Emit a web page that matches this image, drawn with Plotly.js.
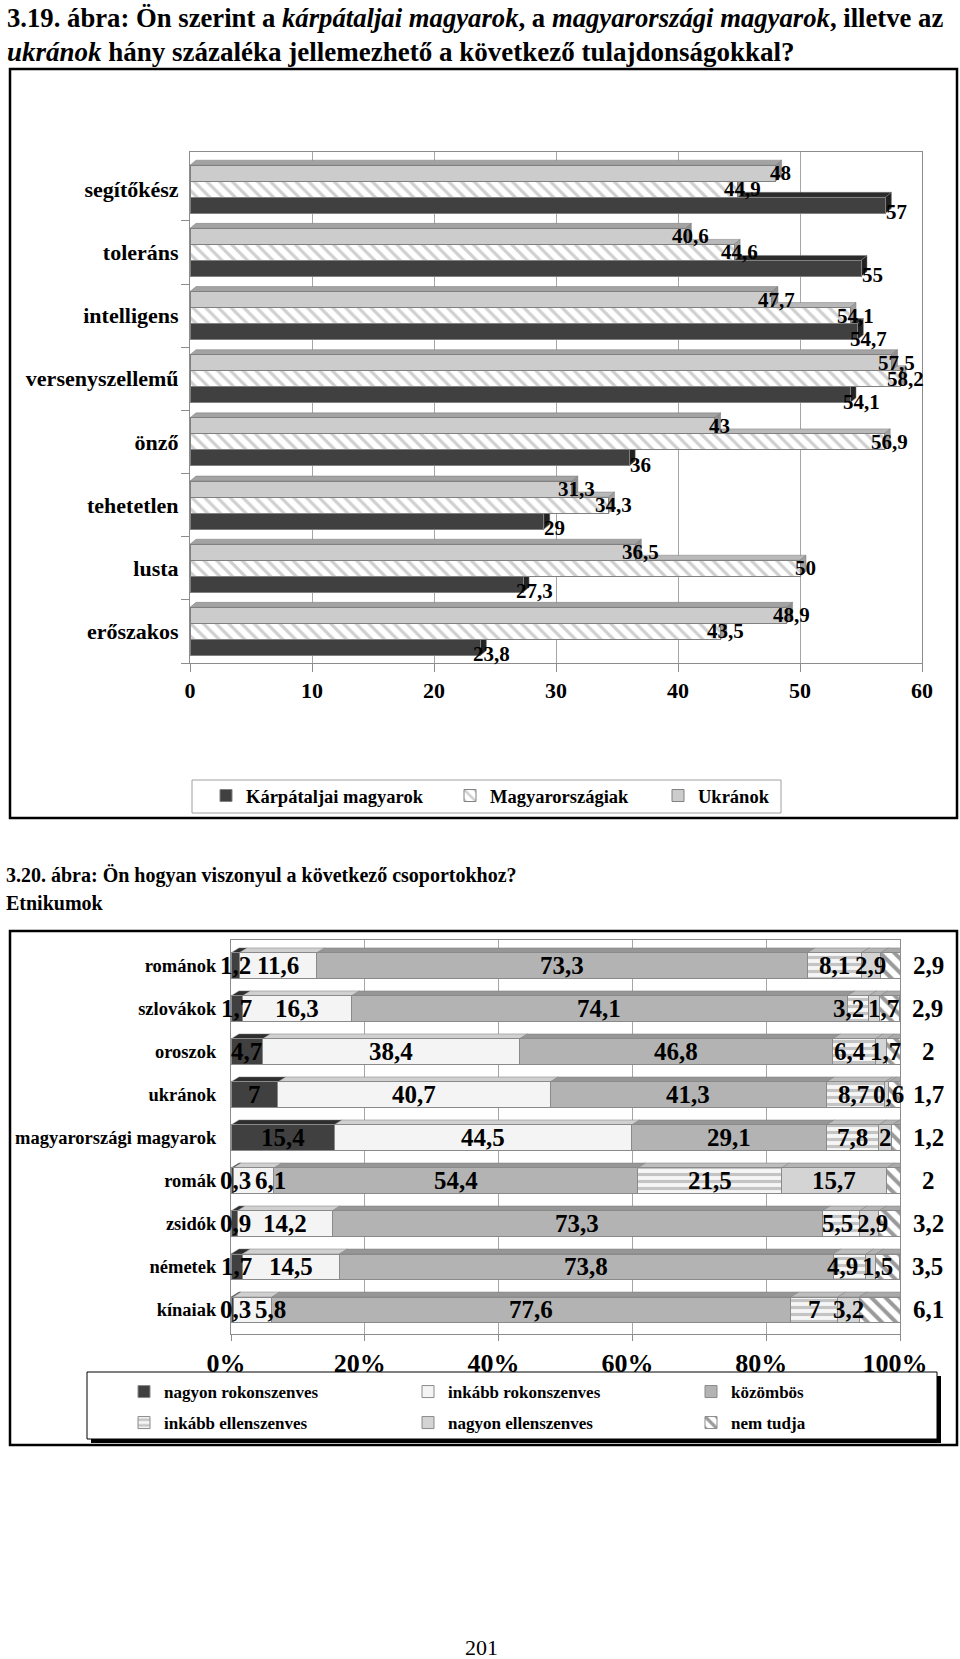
<!DOCTYPE html>
<html><head><meta charset="utf-8">
<script src="https://cdn.plot.ly/plotly-3.0.1.min.js"></script>
<style>html,body{margin:0;padding:0;background:#fff}#chart{width:960px;height:1659px}</style>
</head><body><div id="chart"></div>
<script>
// ---------- DATA: chart 1 (3.19. ábra) ----------
const traits = ['segítőkész','toleráns','intelligens','versenyszellemű','önző','tehetetlen','lusta','erőszakos'];
const karpataljai = [57, 55, 54.7, 54.1, 36, 29, 27.3, 23.8];
const magyarorszagiak = [44.9, 44.6, 54.1, 58.2, 56.9, 34.3, 50, 43.5];
const ukranok = [48, 40.6, 47.7, 57.5, 43, 31.3, 36.5, 48.9];
const series1Names = ['Kárpátaljai magyarok','Magyarországiak','Ukránok'];
const xTicks1 = [0, 10, 20, 30, 40, 50, 60];

// ---------- DATA: chart 2 (3.20. ábra) ----------
const groups = ['románok','szlovákok','oroszok','ukránok','magyarországi magyarok','romák','zsidók','németek','kínaiak'];
const nagyonRokonszenves = [1.2, 1.7, 4.7, 7, 15.4, 0.3, 0.9, 1.7, 0.3];
const inkabbRokonszenves = [11.6, 16.3, 38.4, 40.7, 44.5, 6.1, 14.2, 14.5, 5.8];
const kozombos = [73.3, 74.1, 46.8, 41.3, 29.1, 54.4, 73.3, 73.8, 77.6];
const inkabbEllenszenves = [8.1, 3.2, 6.4, 8.7, 7.8, 21.5, 5.5, 4.9, 7];
const nagyonEllenszenves = [2.9, 1.7, 1.7, 0.6, 2, 15.7, 2.9, 1.5, 3.2];
const nemTudja = [2.9, 2.9, 2, 1.7, 1.2, 2, 3.2, 3.5, 6.1];
const series2Names = ['nagyon rokonszenves','inkább rokonszenves','közömbös','inkább ellenszenves','nagyon ellenszenves','nem tudja'];
const xTicks2 = [0, 20, 40, 60, 80, 100];

// ---------- helpers / geometry ----------
const W = 960, H = 1659;
const px = x => x / W;
const py = y => 1 - y / H;
const FONT = '"Liberation Serif", "Times New Roman", serif';
const fmt = v => String(v).replace('.', ',');
const bold = (size) => ({family: FONT, size: size, color: '#000', weight: 'bold'});

const c1 = {left: 190, right: 922, top: 152, bottom: 663, yr: [-0.5, 7.59]};
const c2 = {left: 231, right: 900, top: 940, bottom: 1334, yr: [-0.56, 8.6]};

const data = [];
const shapes = [];
const annotations = [];
const layout = {
  width: W, height: H,
  margin: {l: 0, r: 0, t: 0, b: 0, pad: 0, autoexpand: false},
  paper_bgcolor: '#ffffff', plot_bgcolor: 'rgba(0,0,0,0)',
  barmode: 'stack', showlegend: true,
  font: {family: FONT, color: '#000'},
  shapes: shapes, annotations: annotations
};

function rectPx(x0, y0, x1, y1, line, fill, layer) {
  return {type: 'rect', xref: 'paper', yref: 'paper', x0: px(x0), x1: px(x1), y0: py(y1), y1: py(y0),
          line: line, fillcolor: fill || 'rgba(0,0,0,0)', layer: layer || 'below'};
}
function legendAt(id, xSym, yCenter, size) {
  layout[id] = {x: px(xSym - 20), xanchor: 'left', y: py(yCenter), yanchor: 'middle', orientation: 'h',
    bgcolor: 'rgba(0,0,0,0)', borderwidth: 0, font: bold(size), itemclick: false, itemdoubleclick: false};
}

// ---------- chart 1 ----------
const n1 = traits.length;
const pos1 = traits.map((_, i) => n1 - 1 - i);
const BW1 = 0.254;
const vals1 = [karpataljai, magyarorszagiak, ukranok];
const off1 = [-BW1, 0, BW1];
const style1 = [
  {color: '#404040', top: '#2b2b2b', side: '#222222', pattern: null},
  {color: '#ffffff', top: '#b9b9b9', side: '#a0a0a0', pattern: {shape: '\\', fgcolor: '#cfcfcf', bgcolor: '#ffffff', size: 9, solidity: 0.35}},
  {color: '#cccccc', top: '#a3a3a3', side: '#8f8f8f', pattern: null}
];
const lab1 = [{xs: 11, ys: -7}, {xs: 5, ys: 0}, {xs: 5, ys: 0}];
const legIds1 = ['legend', 'legend2', 'legend3'];
const legX1 = [226, 470, 678];
const dx1 = 6 / ((c1.right - c1.left) / (xTicks1[xTicks1.length - 1] - xTicks1[0]));
const dy1 = 5 / ((c1.bottom - c1.top) / (c1.yr[1] - c1.yr[0]));

vals1.forEach((vals, k) => {
  const st = style1[k];
  const marker = {color: st.color, line: {color: '#808080', width: 1}};
  if (st.pattern) marker.pattern = st.pattern;
  data.push({type: 'bar', orientation: 'h', name: series1Names[k], x: vals, y: pos1.map(p => p + off1[k]),
    width: BW1, marker: marker, xaxis: 'x', yaxis: 'y', legend: legIds1[k], hoverinfo: 'skip'});
  legendAt(legIds1[k], legX1[k], 796, 18.5);
  vals.forEach((v, i) => {
    const yc = pos1[i] + off1[k], y0 = yc - BW1 / 2, y1 = yc + BW1 / 2;
    shapes.push({type: 'path', xref: 'x', yref: 'y', layer: 'between', fillcolor: st.top, line: {color: '#7a7a7a', width: 0.5},
      path: `M0,${y1} L${v},${y1} L${v + dx1},${y1 + dy1} L${dx1},${y1 + dy1} Z`});
    shapes.push({type: 'path', xref: 'x', yref: 'y', layer: 'between', fillcolor: st.side, line: {color: '#7a7a7a', width: 0.5},
      path: `M${v},${y0} L${v},${y1} L${v + dx1},${y1 + dy1} L${v + dx1},${y0 + dy1} Z`});
    annotations.push({xref: 'x', yref: 'y', x: v, y: yc, text: fmt(v), showarrow: false, xanchor: 'center', yanchor: 'middle',
      xshift: lab1[k].xs, yshift: lab1[k].ys, font: bold(21)});
  });
});

layout.xaxis = {domain: [px(c1.left), px(c1.right)], anchor: 'y', range: [xTicks1[0], xTicks1[xTicks1.length - 1]],
  tickvals: xTicks1, ticktext: xTicks1.map(String), showgrid: true, gridcolor: '#a6a6a6', gridwidth: 1, zeroline: false,
  showline: true, linecolor: '#8c8c8c', linewidth: 1, mirror: true, ticks: 'outside', ticklen: 8, tickcolor: '#8c8c8c',
  tickfont: bold(22), fixedrange: true};
layout.yaxis = {domain: [py(c1.bottom), py(c1.top)], anchor: 'x', range: c1.yr, tickvals: pos1, ticktext: traits,
  showgrid: false, zeroline: false, showline: true, linecolor: '#8c8c8c', mirror: true, ticks: '',
  ticklabelstandoff: 6, tickfont: bold(22), fixedrange: true,
  minor: {tickvals: pos1.map(p => p - 0.5), ticks: 'outside', ticklen: 8, tickcolor: '#8c8c8c', showgrid: false}};

// ---------- chart 2 ----------
const n2 = groups.length;
const pos2 = groups.map((_, i) => n2 - 1 - i);
const BW2 = 0.6;
const vals2 = [nagyonRokonszenves, inkabbRokonszenves, kozombos, inkabbEllenszenves, nagyonEllenszenves, nemTudja];
const style2 = [
  {color: '#404040', top: '#2e2e2e', pattern: null},
  {color: '#f4f4f4', top: '#d0d0d0', pattern: null},
  {color: '#b3b3b3', top: '#969696', pattern: null},
  {color: '#f2f2f2', top: '#bdbdbd', pattern: {shape: '-', fgcolor: '#c4c4c4', bgcolor: '#f6f6f6', size: 7, solidity: 0.45}},
  {color: '#d4d4d4', top: '#b4b4b4', pattern: null},
  {color: '#ffffff', top: '#a9a9a9', pattern: {shape: '\\', fgcolor: '#9a9a9a', bgcolor: '#ffffff', size: 10, solidity: 0.4}}
];
const legIds2 = ['legend4', 'legend5', 'legend6', 'legend7', 'legend8', 'legend9'];
const legX2 = [144, 428, 711];
const legY2 = [1392, 1423];
const pxPerPct = (c2.right - c2.left) / 100;
const dx2 = 8 / pxPerPct;
const dy2 = 5 / ((c2.bottom - c2.top) / (c2.yr[1] - c2.yr[0]));
const labelFs2 = 25;

vals2.forEach((vals, k) => {
  const st = style2[k];
  const marker = {color: st.color, line: {color: '#8a8a8a', width: 1}};
  if (st.pattern) marker.pattern = st.pattern;
  data.push({type: 'bar', orientation: 'h', name: series2Names[k], x: vals, y: pos2, width: BW2, marker: marker,
    xaxis: 'x2', yaxis: 'y2', legend: legIds2[k], hoverinfo: 'skip'});
  legendAt(legIds2[k], legX2[k % 3], legY2[Math.floor(k / 3)], 17);
});

// label anchored on the axis at a pixel target (kept inside the axis range, rest as pixel shift)
function label2(xpx, yv, text) {
  const xv = Math.min(100, Math.max(0, (xpx - c2.left) / pxPerPct));
  annotations.push({xref: 'x2', yref: 'y2', x: xv, y: yv, text: text, showarrow: false, xanchor: 'center', yanchor: 'middle',
    xshift: xpx - (c2.left + xv * pxPerPct), font: bold(labelFs2)});
}

// 3D top faces, end faces and value labels for chart 2
const textW = (s, fs) => { let w = 0; for (const ch of s) w += (ch === ',' ? 0.25 : 0.5); return w * fs; };
groups.forEach((g, i) => {
  const y1 = pos2[i] + BW2 / 2, y0 = pos2[i] - BW2 / 2;
  let cum = 0;
  const centers = [], texts = [], widths = [];
  vals2.forEach((vals, k) => {
    const v = vals[i], c0 = cum, cEnd = cum + v;
    shapes.push({type: 'path', xref: 'x2', yref: 'y2', layer: 'between', fillcolor: style2[k].top, line: {color: '#7f7f7f', width: 0.5},
      path: `M${c0},${y1} L${cEnd},${y1} L${cEnd + dx2},${y1 + dy2} L${c0 + dx2},${y1 + dy2} Z`});
    if (k < vals2.length - 1) {
      centers.push(c2.left + (c0 + v / 2) * pxPerPct);
      texts.push(fmt(v));
      widths.push(textW(fmt(v), labelFs2));
    }
    cum = cEnd;
  });
  shapes.push({type: 'path', xref: 'x2', yref: 'y2', layer: 'between', fillcolor: '#8c8c8c', line: {color: '#6e6e6e', width: 0.5},
    path: `M${cum},${y0} L${cum},${y1} L${cum + dx2},${y1 + dy2} L${cum + dx2},${y0 + dy2} Z`});
  // push overlapping labels apart
  const GAP = 4;
  for (let it = 0; it < 30; it++) {
    for (let j = 0; j < centers.length - 1; j++) {
      const ov = (centers[j] + widths[j] / 2 + GAP) - (centers[j + 1] - widths[j + 1] / 2);
      if (ov > 0) { centers[j] -= ov / 2; centers[j + 1] += ov / 2; }
    }
  }
  if (centers[0] - widths[0] / 2 < c2.left - 11) centers[0] = c2.left - 11 + widths[0] / 2;
  for (let j = 1; j < centers.length; j++) {
    const minC = centers[j - 1] + widths[j - 1] / 2 + GAP + widths[j] / 2;
    if (centers[j] < minC) centers[j] = minC;
  }
  centers.forEach((cx, j) => label2(cx, pos2[i], texts[j]));
  label2(c2.left + cum * pxPerPct + 28, pos2[i], fmt(nemTudja[i]));
});

layout.xaxis2 = {domain: [px(c2.left), px(c2.right)], anchor: 'y2', range: [0, 100], tickvals: xTicks2,
  ticktext: xTicks2.map(v => v + '%'), showgrid: true, gridcolor: '#a6a6a6', zeroline: false, showline: true,
  linecolor: '#8c8c8c', mirror: true, ticks: 'outside', ticklen: 6, tickcolor: '#8c8c8c', tickfont: bold(26),
  ticklabelshift: -5, fixedrange: true};
layout.yaxis2 = {domain: [py(c2.bottom), py(c2.top)], anchor: 'x2', range: c2.yr, tickvals: pos2, ticktext: groups,
  showgrid: false, zeroline: false, showline: true, linecolor: '#8c8c8c', mirror: true, ticks: '',
  ticklabelstandoff: 10, tickfont: bold(18.5), fixedrange: true};

// ---------- frames, legend boxes ----------
shapes.push(rectPx(10, 69, 957, 818, {color: '#000', width: 2.5}));
shapes.push(rectPx(192, 780, 781, 813, {color: '#a0a0a0', width: 1}));
shapes.push(rectPx(10, 931, 957, 1445, {color: '#000', width: 2.5}));
shapes.push(rectPx(91, 1376, 941, 1443, {color: '#000', width: 0}, '#000'));
shapes.push(rectPx(87, 1372, 937, 1439, {color: '#000', width: 1}, '#fff'));

// ---------- titles and page number ----------
function textPx(x, y, text, font, xanchor) {
  annotations.push({xref: 'paper', yref: 'paper', x: px(x), y: py(y), text: text, showarrow: false,
    xanchor: xanchor || 'left', yanchor: 'middle', font: font});
}
textPx(5, 18, '<b>3.19. ábra: Ön szerint a <i>kárpátaljai magyarok</i>, a <i>magyarországi magyarok</i>, illetve az</b>', {family: FONT, size: 26.7, color: '#000'});
textPx(5, 52, '<b><i>ukránok</i> hány százaléka jellemezhető a következő tulajdonságokkal?</b>', {family: FONT, size: 27, color: '#000'});
textPx(4, 875, '<b>3.20. ábra: Ön hogyan viszonyul a következő csoportokhoz?</b>', {family: FONT, size: 20, color: '#000'});
textPx(4, 903, '<b>Etnikumok</b>', {family: FONT, size: 20, color: '#000'});
textPx(481, 1647, '201', {family: FONT, size: 22, color: '#000'}, 'center');

Plotly.newPlot('chart', data, layout, {staticPlot: true, displayModeBar: false});
</script>
</body></html>
